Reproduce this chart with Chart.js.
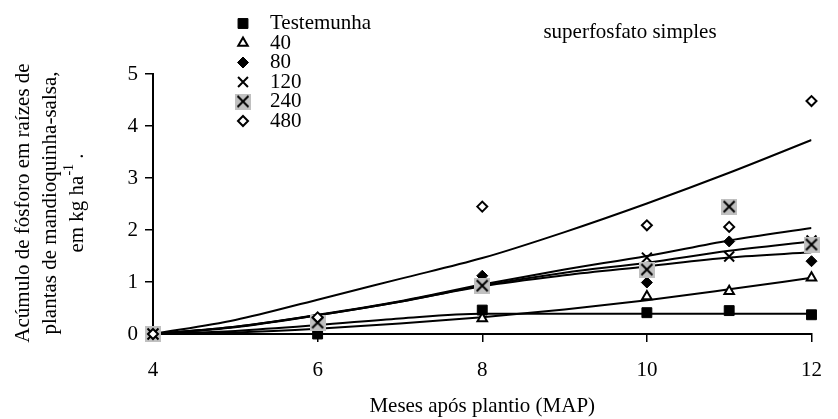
<!DOCTYPE html>
<html lang="pt">
<head>
<meta charset="utf-8">
<title>Acúmulo de fósforo - superfosfato simples</title>
<script src="https://cdn.jsdelivr.net/npm/chart.js@4.4.1/dist/chart.umd.min.js"></script>
<style>
  html, body { margin: 0; padding: 0; background: #fff; }
  #grafico { display: block; }
</style>
</head>
<body>
<canvas id="grafico" width="838" height="419"></canvas>
<script>
const FONT = '"Liberation Serif", "Times New Roman", serif';

// meses de coleta (MAP) e valores observados, kg/ha
const months = [4, 6, 8, 10, 11, 12];
const testemunha = [0, 0.00, 0.46, 0.41, 0.45, 0.37];
const dose40 = [0, 0.25, 0.30, 0.72, 0.82, 1.08];
const dose80 = [0, 0.30, 1.12, 0.99, 1.78, 1.40];
const dose120 = [0, 0.22, 0.92, 1.47, 1.49, 1.80];
const dose240 = [0, 0.22, 0.93, 1.24, 2.45, 1.72];
const dose480 = [0, 0.32, 2.45, 2.09, 2.06, 4.48];

// curvas ajustadas
const fitMonths = [4, 5, 6, 7, 8, 9, 10, 11, 12];
const fitTestemunha = [0, 0.06, 0.17, 0.30, 0.39, 0.39, 0.39, 0.39, 0.39];
const fit40 = [0, 0.03, 0.10, 0.20, 0.32, 0.47, 0.65, 0.86, 1.08];
const fit80 = [0, 0.14, 0.37, 0.63, 0.95, 1.24, 1.50, 1.80, 2.04];
const fit120 = [0, 0.14, 0.36, 0.62, 0.93, 1.18, 1.37, 1.60, 1.78];
const fit240 = [0, 0.13, 0.36, 0.62, 0.92, 1.13, 1.30, 1.47, 1.57];
const fit480 = [0, 0.27, 0.66, 1.06, 1.46, 1.96, 2.51, 3.10, 3.73];

const legendLabels = ['Testemunha', '40', '80', '120', '240', '480'];
const xTicks = [4, 6, 8, 10, 12];
const yTicks = [0, 1, 2, 3, 4, 5];
const yTitle = ['Acúmulo de fósforo em raízes de', 'plantas de mandioquinha-salsa,', 'em kg ha'];

// X preto sobre quadrado cinza (dose 240)
function greyCross() {
    const c = document.createElement('canvas');
    c.width = 16; c.height = 16;
    const g = c.getContext('2d');
    g.fillStyle = '#c0c0c0';
    g.fillRect(0, 0, 16, 16);
    g.strokeStyle = '#000';
    g.lineWidth = 2;
    g.beginPath();
    g.moveTo(2.5, 2.5); g.lineTo(13.5, 13.5);
    g.moveTo(13.5, 2.5); g.lineTo(2.5, 13.5);
    g.stroke();
    return c;
}

const markers = [
    { pointStyle: 'rect', radius: 7, bg: '#000', bw: 1 },
    { pointStyle: 'triangle', radius: 5.5, bg: '#fff', bw: 2 },
    { pointStyle: 'rectRot', radius: 5.5, bg: '#000', bw: 1 },
    { pointStyle: 'crossRot', radius: 7, bg: '#000', bw: 2 },
    { pointStyle: greyCross(), radius: 8, bg: '#000', bw: 0 },
    { pointStyle: 'rectRot', radius: 5, bg: '#fff', bw: 2 }
];

const observed = [testemunha, dose40, dose80, dose120, dose240, dose480];
const fitted = [fitTestemunha, fit40, fit80, fit120, fit240, fit480];

const datasets = [];
observed.forEach((vals, i) => {
    const m = markers[i];
    datasets.push({
        label: legendLabels[i],
        data: months.map((x, k) => ({ x, y: vals[k] })),
        showLine: false,
        pointStyle: m.pointStyle,
        pointRadius: m.radius,
        pointHoverRadius: m.radius,
        pointBackgroundColor: m.bg,
        pointBorderColor: '#000',
        pointBorderWidth: m.bw,
        clip: false,
        order: 6 - i
    });
});
fitted.forEach((vals, i) => {
    datasets.push({
        label: 'ajuste ' + legendLabels[i],
        data: fitMonths.map((x, k) => ({ x, y: vals[k] })),
        showLine: true,
        borderColor: '#000',
        borderWidth: 2,
        pointRadius: 0,
        cubicInterpolationMode: 'monotone',
        order: 20
    });
});

const textPlugin = {
    id: 'textos',
    afterDraw(chart) {
        const ctx = chart.ctx;
        ctx.save();
        ctx.fillStyle = '#000';
        ctx.font = '21px ' + FONT;
        ctx.textBaseline = 'middle';

        // título
        ctx.textAlign = 'center';
        ctx.fillText('superfosfato simples', 630, 32);

        // legenda
        legendLabels.forEach((lab, i) => {
            const y = 23.5 + i * 19.5;
            const m = markers[i];
            ctx.fillStyle = m.bg;
            ctx.strokeStyle = '#000';
            ctx.lineWidth = m.bw;
            Chart.helpers.drawPoint(ctx, { pointStyle: m.pointStyle, radius: m.radius, borderWidth: m.bw, rotation: 0 }, 243, y);
            ctx.fillStyle = '#000';
            ctx.textAlign = 'left';
            ctx.fillText(lab, 270, y);
        });

        // título do eixo y (três linhas, a última com expoente)
        ctx.textAlign = 'center';
        [[23, yTitle[0]], [50, yTitle[1]]].forEach(([x, t]) => {
            ctx.save();
            ctx.translate(x, 203);
            ctx.rotate(-Math.PI / 2);
            ctx.fillText(t, 0, 0);
            ctx.restore();
        });
        const small = '14px ' + FONT;
        const w1 = ctx.measureText(yTitle[2]).width;
        const w3 = ctx.measureText(' .').width;
        ctx.font = small;
        const w2 = ctx.measureText('-1').width;
        ctx.save();
        ctx.translate(77, 203);
        ctx.rotate(-Math.PI / 2);
        ctx.textAlign = 'left';
        let x0 = -(w1 + w2 + w3) / 2;
        ctx.font = '21px ' + FONT;
        ctx.fillText(yTitle[2], x0, 0);
        ctx.font = small;
        ctx.fillText('-1', x0 + w1, -8);
        ctx.font = '21px ' + FONT;
        ctx.fillText(' .', x0 + w1 + w2, 0);
        ctx.restore();
        ctx.restore();
    }
};

new Chart(document.getElementById('grafico'), {
    type: 'scatter',
    data: { datasets },
    options: {
        responsive: false,
        animation: false,
        layout: { padding: { top: 74, right: 11, left: 0, bottom: 0 } },
        plugins: { legend: { display: false }, tooltip: { enabled: false } },
        scales: {
            x: {
                type: 'linear',
                min: 4,
                max: 12,
                afterBuildTicks: s => { s.ticks = xTicks.map(v => ({ value: v })); },
                afterFit: s => { s.height = 85; },
                grid: { drawOnChartArea: false, tickLength: 8, color: '#000', lineWidth: 1.5 },
                border: { color: '#000', width: 2 },
                ticks: { color: '#000', padding: 16, font: { family: FONT, size: 21 } },
                title: {
                    display: true,
                    text: 'Meses após plantio (MAP)',
                    color: '#000',
                    font: { family: FONT, size: 21 },
                    padding: { top: 0, bottom: 0 }
                }
            },
            y: {
                min: 0,
                max: 5,
                afterBuildTicks: s => { s.ticks = yTicks.map(v => ({ value: v })); },
                afterFit: s => { s.width = 153; },
                grid: { drawOnChartArea: false, tickLength: 8, color: '#000', lineWidth: 1.5 },
                border: { color: '#000', width: 2 },
                ticks: { color: '#000', padding: 7, font: { family: FONT, size: 21 } }
            }
        }
    },
    plugins: [textPlugin]
});
</script>
</body>
</html>
